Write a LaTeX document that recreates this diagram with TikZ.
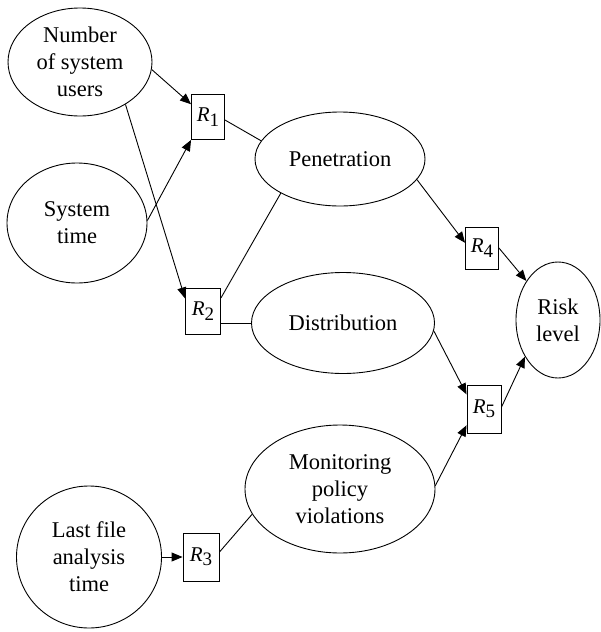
\documentclass[tikz,border=0pt]{standalone}
\usepackage{fontspec}
\setmainfont{Liberation Serif}
\usetikzlibrary{shapes.geometric,arrows.meta}

\tikzset{
  factor/.style={draw, ellipse, line width=0.9pt, inner sep=0pt, align=center,
    font=\fontsize{22.5}{27}\selectfont},
  rule/.style={draw, rectangle, line width=0.9pt, inner sep=0pt,
    minimum width=34pt, minimum height=46pt, font=\fontsize{21}{24}\selectfont},
  link/.style={line width=0.9pt},
  flow/.style={line width=0.9pt, -{Triangle[length=11pt,width=9pt]}}
}
\newcommand{\rlabel}[1]{\textit{R}\raisebox{-0.45ex}{\fontsize{19}{19}\selectfont #1}}

\begin{document}
\begin{tikzpicture}[x=1pt,y=-1pt]
  \useasboundingbox (0,0) rectangle (601,632);

  % input factors
  \node[factor, minimum width=144pt, minimum height=108pt] (users) at (80,62)
    {Number\\of system\\users};
  \node[factor, minimum width=140pt, minimum height=120pt] (systime) at (77,223)
    {System\\time};
  \node[factor, minimum width=145pt, minimum height=142pt] (last) at (89,557)
    {Last file\\analysis\\time};

  % intermediate factors
  \node[factor, minimum width=170pt, minimum height=94pt] (pen) at (340,159)
    {Penetration};
  \node[factor, minimum width=183pt, minimum height=101pt] (dist) at (343,323)
    {Distribution};
  \node[factor, minimum width=190pt, minimum height=128pt] (mon) at (340,489)
    {Monitoring\\policy\\violations};

  % output
  \node[factor, minimum width=84pt, minimum height=116pt] (risk) at (558,320)
    {Risk\\level};

  % rules
  \node[rule, minimum width=33pt, minimum height=45pt] (R1) at (208,117) {\rlabel{1}};
  \node[rule, minimum width=35pt, minimum height=46pt] (R2) at (203,311) {\rlabel{2}};
  \node[rule, minimum width=36pt, minimum height=48pt] (R3) at (201,557) {\rlabel{3}};
  \node[rule, minimum width=33pt, minimum height=42pt] (R4) at (482,248) {\rlabel{4}};
  \node[rule, minimum width=34pt, minimum height=48pt] (R5) at (484,409) {\rlabel{5}};

  % rule inputs
  \draw[flow] (users.-6) -- (R1.143);
  \draw[flow] (systime.2) -- (R1.south west);
  \draw[flow] (users.-43) -- (R2.145);
  \draw[flow] (last.east) -- (R3.west);
  \draw[flow] (pen.-15) -- (R4.163);
  \draw[flow] (dist.-5) -- (R5.140);
  \draw[flow] (mon.2) -- (R5.223);

  % rule outputs
  \draw[link] (R1.-10) -- (pen.167);
  \draw[link] (R2.36) -- (pen.210);
  \draw[link] (dist.west -| R2.east) -- (dist.west);
  \draw[link] (R3.15) -- (mon.196);
  \draw[flow] (R4.east) -- (risk.129);
  \draw[flow] (R5.6) -- (risk.228);
\end{tikzpicture}
\end{document}
